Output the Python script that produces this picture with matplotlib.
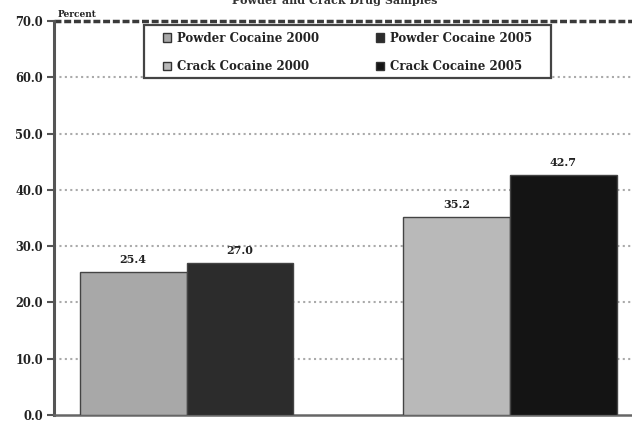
import matplotlib
matplotlib.use("Agg")
import matplotlib.pyplot as plt
import numpy as np
from matplotlib.patches import Patch, Rectangle

plt.rcParams['font.family'] = ['DejaVu Serif', 'Liberation Serif']

groups = ["Powder Cocaine", "Crack Cocaine"]
years = ["2000", "2005"]
powder_values = [25.4, 27.0]
crack_values = [35.2, 42.7]
series_labels = ["Powder Cocaine 2000", "Powder Cocaine 2005",
                 "Crack Cocaine 2000", "Crack Cocaine 2005"]
yticks = [0, 10, 20, 30, 40, 50, 60, 70]

colors = {
    ("Powder Cocaine", "2000"): "#a8a8a8",
    ("Powder Cocaine", "2005"): "#2c2c2c",
    ("Crack Cocaine", "2000"): "#b9b9b9",
    ("Crack Cocaine", "2005"): "#141414",
}

fig = plt.figure(figsize=(6.32, 4.23), dpi=100)
ax = fig.add_axes([54 / 632, 1 - 415 / 423, 578 / 632, 394 / 423])

width = 0.33
x = np.arange(len(groups))
values = {"Powder Cocaine": powder_values, "Crack Cocaine": crack_values}

for gi, g in enumerate(groups):
    for yi, yr in enumerate(years):
        v = values[g][yi]
        xpos = x[gi] + (yi - 0.5) * width
        ax.bar(xpos, v, width=width, color=colors[(g, yr)],
               edgecolor="#444444", linewidth=1.0, zorder=3)
        ax.text(xpos, v + 1.2, f"{v:.1f}", ha="center", va="bottom",
                fontsize=8, fontweight="bold", zorder=4, color="#222222")

ax.set_xlim(-0.41, 1.377)
ax.set_ylim(0, 70)
ax.set_yticks(yticks)
ax.set_yticklabels([f"{t:.1f}" for t in yticks], fontsize=8.3,
                   fontweight="bold", color="#222222")
ax.set_xticks([])

for t in yticks[1:-1]:
    ax.axhline(t, color="#aaaaaa", linewidth=1.5,
               linestyle=(0, (1.0, 1.6)), zorder=1)
ax.axhline(70, color="#3a3a3a", linewidth=2.5,
           linestyle=(0, (2, 0.8)), zorder=2, clip_on=False)

for side in ["top", "right"]:
    ax.spines[side].set_visible(False)
ax.spines["left"].set_color("#555555")
ax.spines["left"].set_linewidth(2.2)
ax.spines["bottom"].set_color("#666666")
ax.spines["bottom"].set_linewidth(1.8)
ax.tick_params(axis="y", direction="out", length=5, width=1.5,
               color="#555555", pad=3)

ax.text(0.006, 1.005, "Percent", transform=ax.transAxes, fontsize=6.5,
        fontweight="bold", ha="left", va="bottom", color="#222222")

fig.text(0.53, 0.998, "Powder and Crack Drug Samples", ha="center",
         va="center", fontsize=8, fontweight="bold", color="#333333")

# legend frame
ax.add_patch(Rectangle((0.1557, 0.8553), 0.7042, 0.1345,
                       transform=ax.transAxes, facecolor="white",
                       edgecolor="#444444", linewidth=1.6, zorder=5,
                       clip_on=False))

handles = [
    Patch(facecolor=colors[("Powder Cocaine", "2000")], edgecolor="#333333"),
    Patch(facecolor=colors[("Crack Cocaine", "2000")], edgecolor="#333333"),
    Patch(facecolor=colors[("Powder Cocaine", "2005")], edgecolor="#333333"),
    Patch(facecolor=colors[("Crack Cocaine", "2005")], edgecolor="#333333"),
]
labels = [series_labels[0], series_labels[2], series_labels[1], series_labels[3]]
leg = ax.legend(handles, labels, ncol=2, loc="upper left",
                bbox_to_anchor=(0.1886, 0.973),
                prop={"size": 8.5, "weight": "bold"},
                frameon=False, handlelength=0.7,
                handleheight=0.7, handletextpad=0.5, columnspacing=4.8,
                labelspacing=1.3, borderpad=0, borderaxespad=0)
leg.set_zorder(6)
for t in leg.get_texts():
    t.set_color("#222222")

fig.savefig("out.png", dpi=100)
